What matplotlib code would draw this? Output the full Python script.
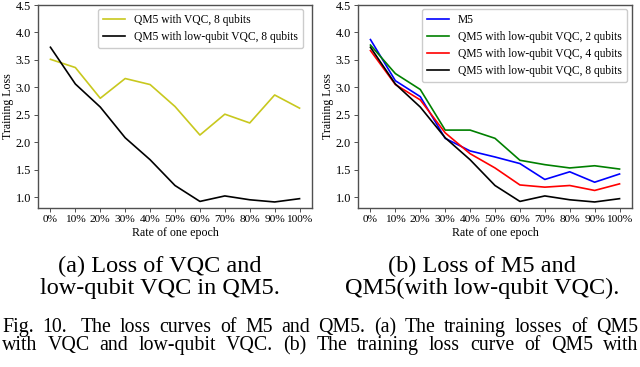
import matplotlib
matplotlib.use("Agg")
import matplotlib.pyplot as plt

plt.rcParams['font.family'] = ['Liberation Serif', 'DejaVu Serif']

x_labels = ['0%', '10%', '20%', '30%', '40%', '50%', '60%', '70%', '80%', '90%', '100%']
y_ticks = [1.0, 1.5, 2.0, 2.5, 3.0, 3.5, 4.0, 4.5]

qm5_vqc_8 = [3.51, 3.36, 2.80, 3.16, 3.05, 2.65, 2.13, 2.51, 2.35, 2.86, 2.62]
qm5_low_8 = [3.73, 3.06, 2.64, 2.08, 1.68, 1.21, 0.92, 1.02, 0.95, 0.91, 0.97]
m5 = [3.87, 3.12, 2.83, 2.07, 1.84, 1.73, 1.61, 1.32, 1.46, 1.27, 1.42]
qm5_low_2 = [3.77, 3.25, 2.96, 2.22, 2.22, 2.07, 1.67, 1.59, 1.53, 1.57, 1.51]
qm5_low_4 = [3.67, 3.05, 2.77, 2.17, 1.79, 1.53, 1.22, 1.18, 1.21, 1.12, 1.24]

sub_a = ["(a) Loss of VQC and", "low-qubit VQC in QM5."]
sub_b = ["(b) Loss of M5 and", "QM5(with low-qubit VQC)."]
fig_caption = ["Fig. 10.  The loss curves of M5 and QM5. (a) The training losses of QM5",
               "with VQC and low-qubit VQC. (b) The training loss curve of QM5 with"]

W, H = 640, 367
fig = plt.figure(figsize=(6.4, 3.67), dpi=100)
renderer = fig.canvas.get_renderer()

def style(ax):
    ax.set_xlim(-0.5, 10.5)
    ax.set_ylim(0.8, 4.5)
    ax.set_xticks(range(len(x_labels)))
    ax.set_xticklabels(x_labels, fontsize=8.2)
    ax.set_yticks(y_ticks)
    ax.set_yticklabels([f"{v:.1f}" for v in y_ticks], fontsize=8.8)
    ax.tick_params(length=3, width=0.6, pad=2, color='#333333')
    for s in ax.spines.values():
        s.set_color('#505050')
        s.set_linewidth(1.0)
    ax.set_xlabel("Rate of one epoch", fontsize=8.6, labelpad=2)
    ax.set_ylabel("Training Loss", fontsize=8.6, labelpad=1.5)

def legend(ax, right_px, top_px, ax_left_px):
    bx = (right_px - ax_left_px) / 274
    by = 1 - (top_px - 5) / 203
    ax.legend(loc='upper right', bbox_to_anchor=(bx, by), borderaxespad=0,
              fontsize=8.3, handlelength=1.9, handletextpad=0.8, borderpad=0.45,
              labelspacing=0.42, framealpha=1, edgecolor='#cccccc')

xs = list(range(len(x_labels)))

ax1 = fig.add_axes([38 / W, 1 - 208 / H, 274 / W, 203 / H])
ax1.plot(xs, qm5_vqc_8, color='#c8c81e', lw=1.2, label='QM5 with VQC, 8 qubits')
ax1.plot(xs, qm5_low_8, color='black', lw=1.2, label='QM5 with low-qubit VQC, 8 qubits')
style(ax1)
legend(ax1, 303, 9, 38)

ax2 = fig.add_axes([358 / W, 1 - 208 / H, 274 / W, 203 / H])
ax2.plot(xs, m5, color='blue', lw=1.2, label='M5')
ax2.plot(xs, qm5_low_2, color='green', lw=1.2, label='QM5 with low-qubit VQC, 2 qubits')
ax2.plot(xs, qm5_low_4, color='red', lw=1.2, label='QM5 with low-qubit VQC, 4 qubits')
ax2.plot(xs, qm5_low_8, color='black', lw=1.2, label='QM5 with low-qubit VQC, 8 qubits')
style(ax2)
legend(ax2, 627, 9, 358)

# sub-captions
for i, (ta, tb) in enumerate(zip(sub_a, sub_b)):
    yb = [272, 294][i]
    fig.text(160 / W, 1 - yb / H, ta, ha='center', va='baseline', fontsize=17.5)
    fig.text(482 / W, 1 - yb / H, tb, ha='center', va='baseline', fontsize=17.5)

# justified figure caption
x0, x1 = 2, 638
cap_size = 14.3
for i, line in enumerate(fig_caption):
    yb = [332, 350][i]
    words = line.split()
    texts = [fig.text(0, 1 - yb / H, w_, ha='left', va='baseline', fontsize=cap_size) for w_ in words]
    widths = [t.get_window_extent(renderer).width for t in texts]
    gaps = [1.0] * (len(words) - 1)
    if i == 0:
        gaps[1] = 1.6  # wider space after "Fig. 10."
    unit = (x1 - x0 - sum(widths)) / sum(gaps)
    cx = x0
    for k, (t, wd) in enumerate(zip(texts, widths)):
        t.set_x(cx / W)
        if k < len(gaps):
            cx += wd + unit * gaps[k]

fig.savefig("out.png", dpi=100)
